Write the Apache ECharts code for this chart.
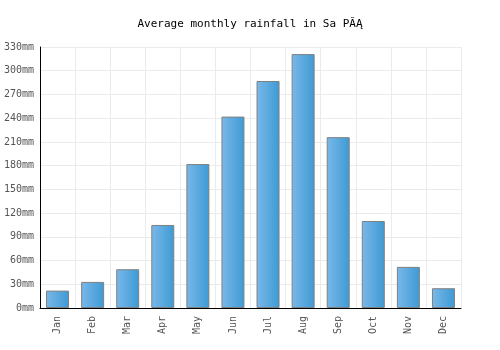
<!DOCTYPE html>
<html>
<head>
<meta charset="utf-8">
<script src="https://cdn.jsdelivr.net/npm/echarts@6/dist/echarts.min.js"></script>
<style>
  html, body { margin: 0; padding: 0; background: #fff; }
  #chart { width: 500px; height: 350px; }
</style>
</head>
<body>
<div id="chart"></div>
<script>
const months = ['Jan', 'Feb', 'Mar', 'Apr', 'May', 'Jun', 'Jul', 'Aug', 'Sep', 'Oct', 'Nov', 'Dec'];
const rainfall = [22, 33, 49, 105, 182, 242, 287, 321, 216, 110, 52, 25];
const titleText = 'Average monthly rainfall in Sa PĂĄ';

const mono = '"DejaVu Sans Mono", monospace';
const chart = echarts.init(document.getElementById('chart'));

chart.setOption({
  animation: false,
  title: {
    text: titleText,
    left: 'center',
    top: 14,
    textStyle: { fontFamily: mono, fontSize: 11, fontWeight: 'normal', color: '#000' }
  },
  grid: { left: 40, right: 39, top: 47, bottom: 42 },
  xAxis: {
    type: 'category',
    data: months,
    axisLine: { lineStyle: { color: '#000', width: 1 } },
    axisTick: { show: false },
    axisLabel: {
      rotate: 90,
      margin: 8,
      fontFamily: mono,
      fontSize: 10,
      color: '#555'
    },
    splitLine: { show: true, lineStyle: { color: '#ebebeb', width: 1 } }
  },
  yAxis: {
    type: 'value',
    min: 0,
    max: 330,
    interval: 30,
    axisLine: { show: true, lineStyle: { color: '#000', width: 1 } },
    axisTick: { show: false },
    axisLabel: {
      formatter: '{value}mm',
      margin: 6,
      fontFamily: mono,
      fontSize: 10,
      color: '#555'
    },
    splitLine: { lineStyle: { color: '#ebebeb', width: 1 } }
  },
  series: [{
    type: 'bar',
    data: rainfall,
    barWidth: 23,
    itemStyle: {
      color: new echarts.graphic.LinearGradient(0, 0, 1, 0, [
        { offset: 0, color: '#7ab8ea' },
        { offset: 1, color: '#3d9ad3' }
      ]),
      borderColor: '#808080',
      borderWidth: 1
    }
  }]
});
</script>
</body>
</html>
